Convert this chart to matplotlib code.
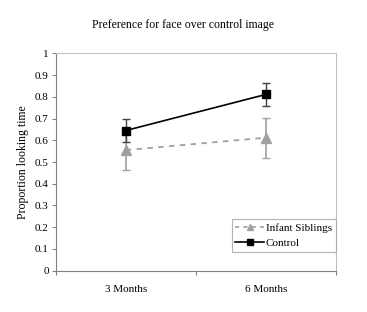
import numpy as np
import matplotlib
matplotlib.use("Agg")
import matplotlib.pyplot as plt
from matplotlib.lines import Line2D

plt.rcParams['font.family'] = ['Liberation Serif', 'DejaVu Serif']

categories = ["3 Months", "6 Months"]
siblings = [0.555, 0.612]
siblings_err = [0.09, 0.092]
control = [0.645, 0.811]
control_err = [0.055, 0.051]

fig = plt.figure(figsize=(3.67, 3.12), dpi=100)
ax = fig.add_axes([0.152, 0.1324, 0.7635, 0.6966])

x = np.arange(len(categories)) + 0.5
ax.errorbar(x, siblings, yerr=siblings_err, color="#a0a0a0", ls=(0, (3, 3)), lw=1.3,
            marker="^", ms=6.5, capsize=3, elinewidth=1.2, capthick=1.0)
ax.errorbar(x, control, yerr=control_err, color="black", ls="-", lw=1.2,
            marker="s", ms=6, capsize=3, elinewidth=1.0, ecolor="#404040", capthick=1.0)

ax.set_xlim(0, 2)
ax.set_ylim(0, 1)
ax.set_yticks(np.arange(0, 1.01, 0.1))
ax.set_yticklabels(["0", "0.1", "0.2", "0.3", "0.4", "0.5", "0.6", "0.7", "0.8", "0.9", "1"], fontsize=8)
ax.set_xticks([0, 1, 2])
ax.set_xticklabels([])
ax.set_xticks(x, minor=True)
ax.set_xticklabels(categories, minor=True, fontsize=8)
ax.tick_params(axis="x", which="minor", length=0, pad=10)
ax.tick_params(axis="x", which="major", direction="out", length=3, color="#808080")
ax.tick_params(axis="y", direction="out", length=3, color="#808080", pad=2)

for s in ["top", "right"]:
    ax.spines[s].set_color("#c0c0c0")
for s in ["left", "bottom"]:
    ax.spines[s].set_color("#808080")

ax.set_ylabel("Proportion looking time", fontsize=8.5, labelpad=4)
fig.suptitle("Preference for face over control image", fontsize=8.5, x=0.5, y=0.94)

handles = [
    Line2D([], [], color="#a0a0a0", ls=(0, (2.5, 2.5)), lw=1.2, marker="^", ms=5),
    Line2D([], [], color="black", ls="-", lw=1.2, marker="s", ms=4.5),
]
leg = ax.legend(handles, ["Infant Siblings", "Control"], loc="lower right",
                bbox_to_anchor=(1.0, 0.085), fontsize=8, frameon=True,
                fancybox=False, edgecolor="#a0a0a0", handlelength=2.6, borderpad=0.35,
                labelspacing=0.5, handletextpad=0.15, borderaxespad=0.0)
leg.get_frame().set_linewidth(0.8)

fig.savefig("out.png", dpi=100)
